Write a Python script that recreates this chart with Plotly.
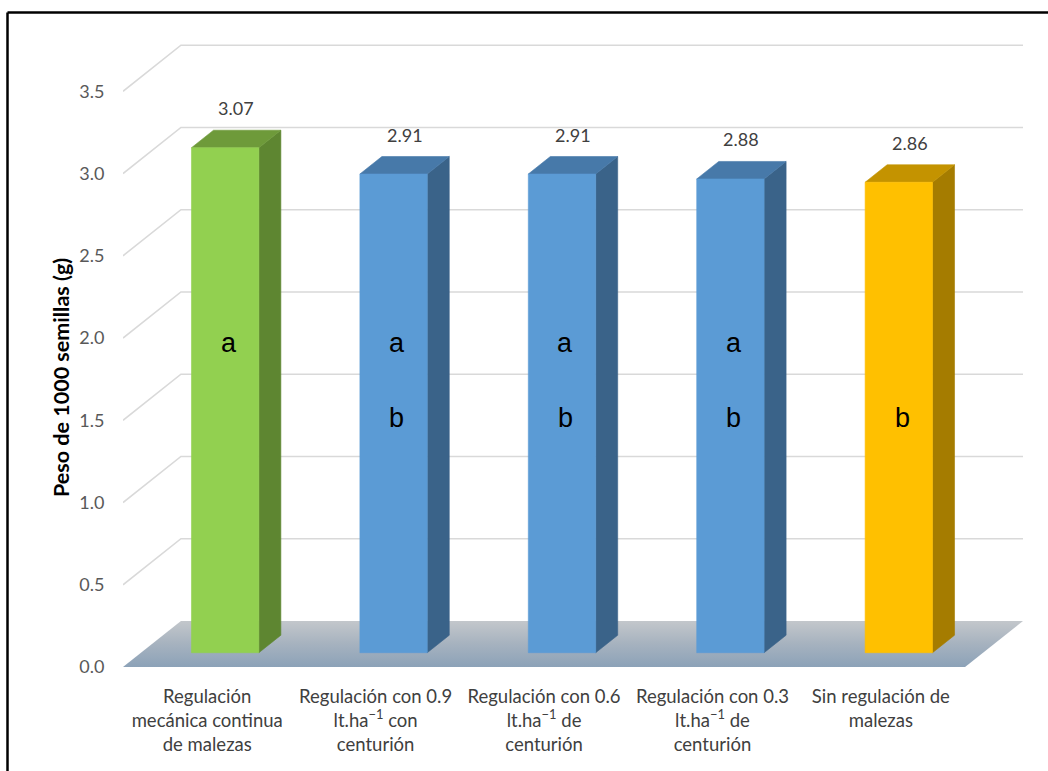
import plotly.graph_objects as go

# ---- data -------------------------------------------------------------
categories = [
    "Regulación<br>mecánica continua<br>de malezas",
    "Regulación con 0.9<br>lt.ha<sup>−1</sup> con<br>centurión",
    "Regulación con 0.6<br>lt.ha<sup>−1</sup> de<br>centurión",
    "Regulación con 0.3<br>lt.ha<sup>−1</sup> de<br>centurión",
    "Sin regulación de<br>malezas",
]
weights = [3.07, 2.91, 2.91, 2.88, 2.86]
group_upper = ["a", "a", "a", "a", ""]
group_lower = ["", "b", "b", "b", "b"]
y_ticks = [0.0, 0.5, 1.0, 1.5, 2.0, 2.5, 3.0, 3.5]

# ---- styling ----------------------------------------------------------
GREEN = dict(front="#92D050", top="#6E9A3A", side="#5E8631")
BLUE = dict(front="#5B9BD5", top="#4779A9", side="#3A6389")
GOLD = dict(front="#FFC000", top="#C49300", side="#A57C00")
bar_styles = [GREEN, BLUE, BLUE, BLUE, GOLD]

W, H = 1048, 771
ML, MR, MT, MB = 123, 25, 20, 104

# oblique projection of the depth axis (in axis units)
DX, DY = 0.344, 0.28
F0, F1 = 0.31, 0.69          # front / back of the bars along the depth
BAR_W = 0.4
X_MIN, X_MAX = 0.5, len(categories) + 0.5 + DX
Y_MAX = (H - MT - MB) / 164.5

fig = go.Figure()


def poly(xs, ys, color, **kw):
    fig.add_trace(go.Scatter(
        x=xs + [xs[0]], y=ys + [ys[0]], mode="lines", fill="toself",
        fillcolor=color, line=dict(color=color, width=0.6),
        hoverinfo="skip", showlegend=False, **kw))


# floor
n = len(categories)
fig.add_trace(go.Scatter(
    x=[0.5, n + 0.5, n + 0.5 + DX, 0.5 + DX, 0.5],
    y=[0, 0, DY, DY, 0], mode="lines", fill="toself",
    fillgradient=dict(type="vertical",
                      colorscale=[[0, "#8CA2B8"], [0.5, "#A6B2BF"], [1, "#C3C7CB"]]),
    line=dict(width=0), hoverinfo="skip", showlegend=False))

# gridlines on the side and back walls
for v in y_ticks[1:]:
    fig.add_trace(go.Scatter(
        x=[0.5, 0.5 + DX, n + 0.5 + DX], y=[v, v + DY, v + DY],
        mode="lines", line=dict(color="#D9D9D9", width=1.6),
        hoverinfo="skip", showlegend=False))

# 3-D columns
dd_x, dd_y = (F1 - F0) * DX, (F1 - F0) * DY
for i, (v, st) in enumerate(zip(weights, bar_styles)):
    c = i + 1
    x0 = c - BAR_W / 2 + F0 * DX
    x1 = c + BAR_W / 2 + F0 * DX
    y0 = F0 * DY
    y1 = v + F0 * DY
    poly([x1, x1 + dd_x, x1 + dd_x, x1], [y0, y0 + dd_y, y1 + dd_y, y1], st["side"])
    poly([x0, x1, x1 + dd_x, x0 + dd_x], [y1, y1, y1 + dd_y, y1 + dd_y], st["top"])
    poly([x0, x1, x1, x0], [y0, y0, y1, y1], st["front"])

annotations = []
for i, v in enumerate(weights):
    c = i + 1
    annotations.append(dict(
        x=c + 0.5 * DX, y=v + F1 * DY, xref="x", yref="y",
        text=f"{v:.2f}", showarrow=False, yanchor="bottom", yshift=9,
        font=dict(family="Lato", size=18, color="#404040")))
    xc = c + F0 * DX + 0.02
    if group_upper[i]:
        annotations.append(dict(
            x=xc, y=1.97, xref="x", yref="y", text=group_upper[i],
            showarrow=False, font=dict(family="Liberation Sans", size=27, color="#000000")))
    if group_lower[i]:
        annotations.append(dict(
            x=xc, y=1.515, xref="x", yref="y", text=group_lower[i],
            showarrow=False, font=dict(family="Liberation Sans", size=27, color="#000000")))

plot_w, plot_h = W - ML - MR, H - MT - MB


def px_to_paper(px, py):
    return (px - ML) / plot_w, (H - MB - py) / plot_h


tx, ty = px_to_paper(61, 378)
annotations.append(dict(
    x=tx, y=ty, xref="paper", yref="paper", text="<b>Peso de 1000 semillas (g)</b>",
    textangle=-90, showarrow=False, xanchor="center", yanchor="middle",
    font=dict(family="Lato", size=21.5, color="#000000")))

# outer frame of the chart area
bx0, by0 = px_to_paper(7.5, 12.5)
bx1, by1 = px_to_paper(W + 20, H + 20)
shapes = [
    dict(type="line", xref="paper", yref="paper", x0=bx0, y0=by0, x1=bx1, y1=by0,
         line=dict(color="#000000", width=2.5)),
    dict(type="line", xref="paper", yref="paper", x0=bx0, y0=by0, x1=bx0, y1=by1,
         line=dict(color="#000000", width=2.5)),
]

fig.update_layout(
    width=W, height=H,
    margin=dict(l=ML, r=MR, t=MT, b=MB),
    paper_bgcolor="white", plot_bgcolor="white",
    showlegend=False,
    annotations=annotations, shapes=shapes,
    xaxis=dict(range=[X_MIN, X_MAX], tickvals=list(range(1, n + 1)), ticktext=categories,
               showgrid=False, zeroline=False, showline=False, ticks="outside",
               ticklen=13, tickcolor="rgba(0,0,0,0)",
               tickfont=dict(family="Lato", size=18.5, color="#404040"), fixedrange=True),
    yaxis=dict(range=[0, Y_MAX], tickvals=y_ticks, tickformat=".1f",
               showgrid=False, zeroline=False, showline=False, ticks="outside",
               ticklen=14, tickcolor="rgba(0,0,0,0)",
               tickfont=dict(family="Lato", size=18, color="#595959"), fixedrange=True),
)

fig.write_html("out.html")
